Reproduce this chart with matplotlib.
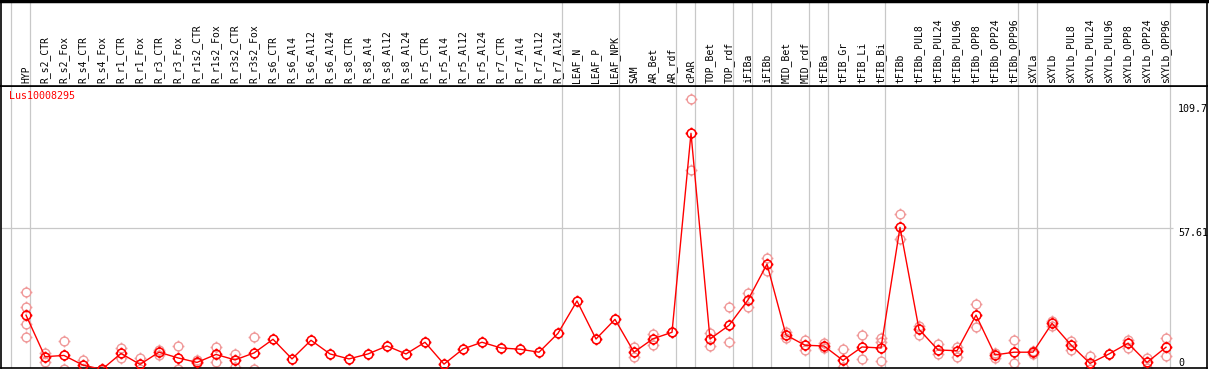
import numpy as np
import matplotlib
matplotlib.use("Agg")
import matplotlib.pyplot as plt
from matplotlib.path import Path
from matplotlib.transforms import blended_transform_factory

gene = "Lus10008295"

samples = ["HYP", "R_s2_CTR", "R_s2_Fox", "R_s4_CTR", "R_s4_Fox", "R_r1_CTR", "R_r1_Fox",
           "R_r3_CTR", "R_r3_Fox", "R_r1s2_CTR", "R_r1s2_Fox", "R_r3s2_CTR", "R_r3s2_Fox",
           "R_s6_CTR", "R_s6_Al4", "R_s6_Al12", "R_s6_Al24", "R_s8_CTR", "R_s8_Al4",
           "R_s8_Al12", "R_s8_Al24", "R_r5_CTR", "R_r5_Al4", "R_r5_Al12", "R_r5_Al24",
           "R_r7_CTR", "R_r7_Al4", "R_r7_Al12", "R_r7_Al24", "LEAF_N", "LEAF_P", "LEAF_NPK",
           "SAM", "AR_Bet", "AR_rdf", "cPAR", "TOP_Bet", "TOP_rdf", "iFIBa", "iFIBb",
           "MID_Bet", "MID_rdf", "tFIBa", "tFIB_Gr", "tFIB_Li", "tFIB_Bi", "tFIBb",
           "tFIBb_PUL8", "tFIBb_PUL24", "tFIBb_PUL96", "tFIBb_OPP8", "tFIBb_OPP24",
           "tFIBb_OPP96", "sXYLa", "sXYLb", "sXYLb_PUL8", "sXYLb_PUL24", "sXYLb_PUL96",
           "sXYLb_OPP8", "sXYLb_OPP24", "sXYLb_OPP96"]

# mean expression per sample
means = [22.7, 6.0, 6.5, 2.6, 0.9, 7.3, 2.9, 7.8, 5.5, 3.7, 6.9, 4.7, 7.5,
         13.0, 5.1, 12.6, 7.1, 5.1, 7.1, 10.3, 7.1, 11.8, 3.0, 9.1, 11.8,
         9.5, 9.0, 7.8, 15.4, 28.4, 13.1, 21.0, 7.8, 13.2, 15.8, 95.8,
         13.1, 18.6, 28.8, 43.2, 14.7, 10.6, 10.3, 4.5, 9.9, 9.5, 58.0,
         17.0, 8.7, 8.4, 22.7, 6.7, 7.8, 7.8, 19.4, 10.7, 3.3, 7.1, 11.4, 3.7, 9.8]

# individual replicates (pale circles)
replicates = [[31.9, 25.8, 19.0, 13.9], [7.6, 4.0], [12.2, 0.9], [4.7, 1.0], [0.5, 1.2],
              [9.6, 5.6], [5.5, 1.0], [8.7, 6.7], [10.3, 1.0], [4.7, 3.3], [9.9, 4.0],
              [7.1, 2.0], [13.9, 1.0],
              [], [], [], [], [], [], [], [], [], [], [], [], [], [], [], [], [], [], [],
              [9.9, 5.7], [15.0, 10.8], [15.8], [109.7, 81.2],
              [15.6, 10.3], [25.8, 11.8], [31.5, 25.8], [45.5, 40.6], [15.9, 13.6],
              [12.7, 8.6], [11.4, 9.4], [9.0, 2.0], [14.6, 5.1], [13.4, 12.0, 4.1],
              [63.2, 53.2], [18.5, 14.8], [11.0, 6.9], [10.0, 6.0], [27.0, 18.0],
              [7.6, 5.6], [12.6, 3.3], [8.4, 6.9], [20.5, 18.3], [12.3, 8.8],
              [6.3, 1.2], [7.1], [12.7, 9.6], [5.6, 1.6], [13.4, 6.1]]

ytick_vals = [109.7, 57.61, 0]
group_starts = [0, 1, 29, 32, 35, 36, 38, 39, 40, 42, 43, 46, 53, 54, 61]

W, H = 1209, 370
fig = plt.figure(figsize=(W / 100, H / 100), dpi=100)
ax = fig.add_axes([1 / W, 2 / H, 1206 / W, 282 / H])
hdr = fig.add_axes([1 / W, 284 / H, 1206 / W, 85 / H], sharex=ax)

x = np.arange(len(samples))
ax.set_xlim(-25 / 19, 1181 / 19)
ax.set_ylim(1.45, 114.8)

# circle with little ticks, like the original markers
circ = Path.unit_circle()
ticks = Path([(0, 1), (0, 1.35), (0, -1), (0, -1.35), (1, 0), (1.35, 0), (-1, 0), (-1.35, 0)],
             [Path.MOVETO, Path.LINETO] * 4)
sun = Path.make_compound_path(circ, ticks)

for a in (ax, hdr):
    for b in group_starts:
        a.axvline(b - 15 / 19, color="#c8c8c8", lw=0.9, zorder=0)
    a.set_xticks([])
    a.set_yticks([])
    for s in a.spines.values():
        s.set_color("black")
        s.set_linewidth(1.2)

ax.hlines(ytick_vals[1], -25 / 19, 61 - 12 / 19, color="#c8c8c8", lw=0.9, zorder=0)
hdr.spines["top"].set_linewidth(2.5)

rx = [i for i, r in enumerate(replicates) for _ in r]
ry = [v for r in replicates for v in r]
ax.plot(rx, ry, ls="none", marker=sun, ms=8.5, mfc="none", mec="#f09a9a", mew=1.0, zorder=2)
ax.plot(x, means, color="red", lw=1.0, zorder=3)
ax.plot(x, means, ls="none", marker=sun, ms=8.5, mfc="none", mec="red", mew=1.15, zorder=4)

mono = "DejaVu Sans Mono"
tr = blended_transform_factory(hdr.transData, hdr.transAxes)
for i, lab in enumerate(samples):
    hdr.text(i, 3 / 85, lab, rotation=90, ha="center", va="bottom", fontsize=7,
             family=mono, transform=tr)

fig.text(9 / W, 1 - 91 / H, gene, color="red", fontsize=7.2, family=mono, va="top")

tick_tops = [104, 228, 358]
for v, ytop in zip(ytick_vals, tick_tops):
    fig.text(1178 / W, 1 - ytop / H, f"{v:g}", fontsize=7.2, family=mono, va="top",
             ha="left")

fig.savefig("out.png", dpi=100)
